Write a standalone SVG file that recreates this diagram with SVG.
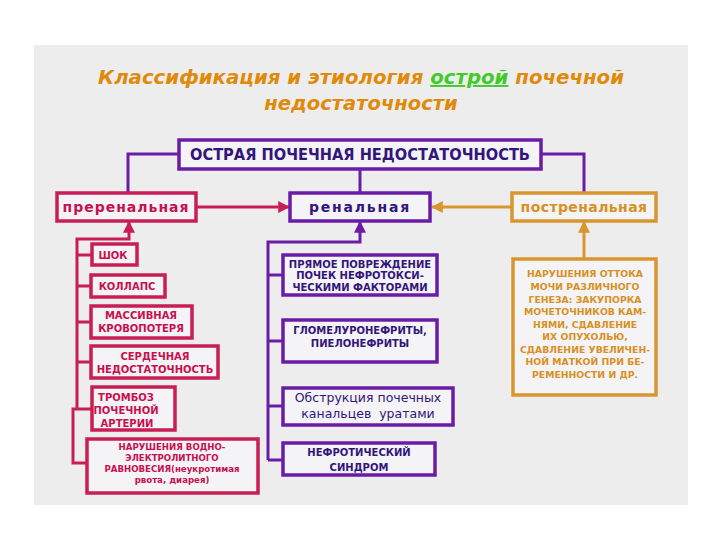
<svg xmlns="http://www.w3.org/2000/svg" width="720" height="540" viewBox="0 0 720 540">
<defs>
<style>
.bx{fill:#F4F3F6;stroke-width:3.5}
.cr{stroke:#C81E55}
.pu{stroke:#6A1CA6}
.go{stroke:#D9962C}
.ln{fill:none;stroke-width:3}
.t{font-family:"DejaVu Sans","Liberation Sans",sans-serif;text-anchor:middle;font-weight:bold}
.tc{fill:#C8104E}
.tp{fill:#33167A}
.tg{fill:#D8901E}
.s10{font-size:10px}
.s95{font-size:9.3px}
.s9{font-size:8.6px}
.nw{font-weight:normal}
</style>
<marker id="aC" viewBox="0 0 10 10" refX="9" refY="5" markerWidth="4" markerHeight="4" orient="auto" markerUnits="strokeWidth"><path d="M0,0L10,5L0,10z" fill="#C81E55"/></marker>
<marker id="aP" viewBox="0 0 10 10" refX="9" refY="5" markerWidth="4" markerHeight="4" orient="auto" markerUnits="strokeWidth"><path d="M0,0L10,5L0,10z" fill="#6A1CA6"/></marker>
<marker id="aG" viewBox="0 0 10 10" refX="9" refY="5" markerWidth="4" markerHeight="4" orient="auto" markerUnits="strokeWidth"><path d="M0,0L10,5L0,10z" fill="#D9962C"/></marker>
</defs>
<rect width="720" height="540" fill="#FFFFFF"/>
<rect x="34" y="45" width="654" height="460" fill="#EDEDED"/>
<g id="title" font-family="DejaVu Sans,sans-serif" font-weight="bold" font-style="italic" font-size="19.5" fill="#E08A0C" text-anchor="middle">
<text x="361" y="84" textLength="526" lengthAdjust="spacingAndGlyphs">Классификация и этиология <tspan fill="#3FCC2A" text-decoration="underline">острой</tspan> почечной</text>
<text x="361" y="110">недостаточности</text>
</g>
<g id="connectors">
<polyline class="ln pu" points="180,154 128,154 128,193"/>
<polyline class="ln pu" points="540,154 584,154 584,193"/>
<line class="ln pu" x1="360" y1="169" x2="360" y2="193"/>
<line class="ln cr" x1="196" y1="207" x2="289" y2="207" marker-end="url(#aC)"/>
<line class="ln go" x1="511" y1="207" x2="432" y2="207" marker-end="url(#aG)"/>
<polyline class="ln cr" points="77,409 77,239 129,239 129,222" marker-end="url(#aC)"/>
<line class="ln cr" x1="77" y1="255" x2="92" y2="255"/>
<line class="ln cr" x1="77" y1="286" x2="91" y2="286"/>
<line class="ln cr" x1="77" y1="322" x2="91" y2="322"/>
<line class="ln cr" x1="77" y1="362" x2="91" y2="362"/>
<polyline class="ln cr" points="92,409 73,409 73,463 87,463"/>
<polyline class="ln pu" points="268,460 268,242 360,242 360,222" marker-end="url(#aP)"/>
<line class="ln pu" x1="268" y1="275" x2="283" y2="275"/>
<line class="ln pu" x1="268" y1="341" x2="283" y2="341"/>
<line class="ln pu" x1="268" y1="406" x2="283" y2="406"/>
<line class="ln pu" x1="268" y1="460" x2="283" y2="460"/>
<line class="ln go" x1="584" y1="259" x2="584" y2="222" marker-end="url(#aG)"/>
</g>
<g id="main">
<rect class="bx pu" x="179" y="140" width="362" height="29" stroke-width="4.5"/>
<text class="t tp" x="360" y="160" font-size="15" font-family="Open Sans,DejaVu Sans,sans-serif" style="font-weight:600" textLength="340" lengthAdjust="spacingAndGlyphs">ОСТРАЯ ПОЧЕЧНАЯ НЕДОСТАТОЧНОСТЬ</text>
</g>
<g id="prerenal">
<rect class="bx cr" x="57" y="193" width="139" height="28"/>
<text class="t tc" x="126" y="212" font-size="14" letter-spacing="1">преренальная</text>
</g>
<g id="renal">
<rect class="bx pu" x="290" y="193" width="140" height="28"/>
<text class="t tp" x="360" y="212" font-size="14" letter-spacing="1.8">ренальная</text>
</g>
<g id="postrenal">
<rect class="bx go" x="512" y="193" width="144" height="28"/>
<text class="t tg" x="584" y="212" font-size="14" letter-spacing="0.4">постренальная</text>
</g>
<g id="shock">
<rect class="bx cr" x="92" y="244" width="45" height="21"/>
<text class="t tc s10" x="113" y="259">ШОК</text>
</g>
<g id="collapse">
<rect class="bx cr" x="91" y="275" width="74" height="22"/>
<text class="t tc s10" x="127" y="290">КОЛЛАПС</text>
</g>
<g id="bloodloss">
<rect class="bx cr" x="91" y="306" width="101" height="32"/>
<text class="t tc s10" x="141" y="319">МАССИВНАЯ</text>
<text class="t tc s10" x="141" y="332">КРОВОПОТЕРЯ</text>
</g>
<g id="heart">
<rect class="bx cr" x="91" y="346" width="127" height="32"/>
<text class="t tc s10" x="155" y="360">СЕРДЕЧНАЯ</text>
<text class="t tc s10" x="155" y="373">НЕДОСТАТОЧНОСТЬ</text>
</g>
<g id="thrombosis">
<rect class="bx cr" x="92" y="387" width="83" height="43"/>
<text class="t tc s10" x="126" y="401">ТРОМБОЗ</text>
<text class="t tc s10" x="126" y="414">ПОЧЕЧНОЙ</text>
<text class="t tc s10" x="127" y="427">АРТЕРИИ</text>
</g>
<g id="electrolyte">
<rect class="bx cr" x="87" y="439" width="171" height="54"/>
<text class="t tc s9" x="172" y="450">НАРУШЕНИЯ ВОДНО-</text>
<text class="t tc s9" x="172" y="461">ЭЛЕКТРОЛИТНОГО</text>
<text class="t tc s9" x="172" y="472">РАВНОВЕСИЯ(неукротимая</text>
<text class="t tc s9" x="172" y="483">рвота, диарея)</text>
</g>
<g id="nephrotoxic">
<rect class="bx pu" x="283" y="255" width="154" height="40"/>
<text class="t tp s10" x="360" y="268">ПРЯМОЕ ПОВРЕЖДЕНИЕ</text>
<text class="t tp s10" x="360" y="279">ПОЧЕК НЕФРОТОКСИ-</text>
<text class="t tp s10" x="360" y="291">ЧЕСКИМИ ФАКТОРАМИ</text>
</g>
<g id="glomerulo">
<rect class="bx pu" x="283" y="320" width="154" height="42"/>
<text class="t tp s10" x="360" y="334">ГЛОМЕЛУРОНЕФРИТЫ,</text>
<text class="t tp s10" x="360" y="347">ПИЕЛОНЕФРИТЫ</text>
</g>
<g id="obstruction">
<rect class="bx pu" x="283" y="388" width="170" height="37"/>
<text class="t tp nw" x="368" y="402" font-size="12.5">Обструкция почечных</text>
<text class="t tp nw" x="368" y="418" font-size="12.5" xml:space="preserve">канальцев  уратами</text>
</g>
<g id="nephrotic">
<rect class="bx pu" x="283" y="443" width="152" height="32"/>
<text class="t tp s10" x="359" y="456">НЕФРОТИЧЕСКИЙ</text>
<text class="t tp s10" x="359" y="471">СИНДРОМ</text>
</g>
<g id="outflow">
<rect class="bx go" x="513" y="259" width="143" height="136"/>
<g class="t tg s95">
<text x="585" y="277">НАРУШЕНИЯ ОТТОКА</text>
<text x="585" y="290">МОЧИ РАЗЛИЧНОГО</text>
<text x="585" y="303">ГЕНЕЗА: ЗАКУПОРКА</text>
<text x="585" y="315">МОЧЕТОЧНИКОВ КАМ-</text>
<text x="585" y="328">НЯМИ, СДАВЛЕНИЕ</text>
<text x="585" y="340">ИХ ОПУХОЛЬЮ,</text>
<text x="585" y="353">СДАВЛЕНИЕ УВЕЛИЧЕН-</text>
<text x="585" y="365">НОЙ МАТКОЙ ПРИ БЕ-</text>
<text x="585" y="378">РЕМЕННОСТИ И ДР.</text>
</g>
</g>
</svg>
